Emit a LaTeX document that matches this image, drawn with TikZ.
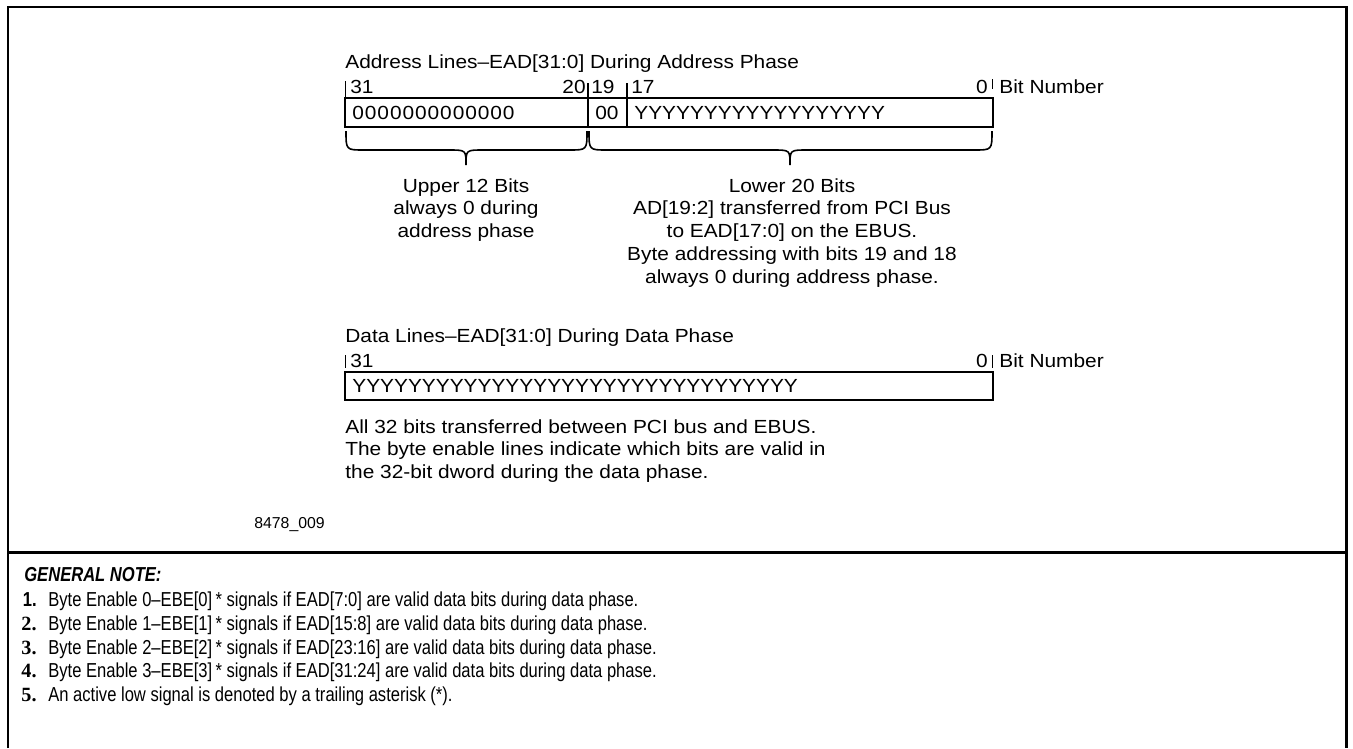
\documentclass[tikz,border=0pt]{standalone}
\usepackage{fontspec}
\setmainfont[FakeStretch=1.1]{Liberation Sans}
\newfontfamily\notefont[FakeStretch=0.82]{Liberation Sans}
\newfontfamily\figfont{Liberation Sans}
\newfontfamily\numfont{Liberation Serif}
\usetikzlibrary{calc}

\begin{document}
\begin{tikzpicture}[x=0.02cm,y=-0.02cm,
  txt/.style={inner sep=0pt,font=\fontsize{10.8}{13}\selectfont},
  note/.style={inner sep=0pt,anchor=base west,font=\notefont\fontsize{11.5}{13}\selectfont},
  num/.style={inner sep=0pt,anchor=base east,font=\numfont\bfseries\fontsize{11.5}{13}\selectfont},
  frame/.style={line width=1.7pt},
  box/.style={line width=0.9pt},
  tick/.style={line width=0.5pt}]

\useasboundingbox (0,0) rectangle (1353,748);

 \draw[frame] (8,748) -- (8,7) -- (1346,7) -- (1346,748);
 \draw[frame] (8,552) -- (1346,552);

% address phase
 \node[txt,anchor=base west] (addrtitle) at (345,68) {Address Lines–EAD[31:0] During Address Phase};
 \node[txt,anchor=base west] (a31) at (350,93) {31};
 \node[txt,anchor=base east] (a20) at (586,93) {20};
 \node[txt,anchor=base west] (a19) at (591,93) {19};
 \node[txt,anchor=base west] (a17) at (631,93) {17};
 \node[txt,anchor=base east] (a0) at (988,93) {0};
 \node[txt,anchor=base west] (abitnum) at (999,93) {Bit Number};

 \draw[box] (345,98) rectangle (993,127);
 \draw[tick] (345,81) -- (345,98);
 \draw[tick] (992,79) -- (992,89);
 \draw[box] (588,83) -- (588,127);
 \draw[box] (627,83) -- (627,127);

 \node[txt,anchor=base west] (azeros) at (352,119) {\addfontfeature{LetterSpace=5}0000000000000};
 \node[txt,anchor=base west] (adbl) at (595,119) {00};
 \node[txt,anchor=base west] (alowy) at (634,119) {YYYYYYYYYYYYYYYYYY};

 \draw[box] (346,131) .. controls (346,150) .. (364,150) -- (449,150) .. controls (466,150) .. (466,165)
   .. controls (466,150) .. (483,150) -- (569,150) .. controls (587,150) .. (587,131);
 \draw[box] (589,131) .. controls (589,150) .. (607,150) -- (773,150) .. controls (790,150) .. (790,165)
   .. controls (790,150) .. (807,150) -- (974,150) .. controls (992,150) .. (992,131);

 \node[txt,anchor=north,align=center] (upper) at (466,178) {Upper 12 Bits\\always 0 during\\address phase};
 \node[txt,anchor=north,align=center] (lower) at (792,178) {Lower 20 Bits\\AD[19:2] transferred from PCI Bus\\to EAD[17:0] on the EBUS.\\Byte addressing with bits 19 and 18\\always 0 during address phase.};

% data phase
 \node[txt,anchor=base west] (datatitle) at (345,342) {Data Lines–EAD[31:0] During Data Phase};
 \node[txt,anchor=base west] (d31) at (350,367) {31};
 \node[txt,anchor=base east] (d0) at (988,367) {0};
 \node[txt,anchor=base west] (dbitnum) at (999,367) {Bit Number};
 \draw[tick] (345,355) -- (345,368);
 \draw[tick] (992,355) -- (992,368);
 \draw[box] (345,372) rectangle (993,400);
 \node[txt,anchor=base west] (dally) at (352,392) {YYYYYYYYYYYYYYYYYYYYYYYYYYYYYYYY};

 \node[txt,anchor=north west,align=left] (ddesc) at (345,419) {All 32 bits transferred between PCI bus and EBUS.\\The byte enable lines indicate which bits are valid in\\the 32-bit dword during the data phase.};

 \node[inner sep=0pt,anchor=base west,font=\figfont\fontsize{9}{11}\selectfont] (figid) at (254,528) {8478\_009};

% notes
 \node[note,font=\notefont\bfseries\itshape\fontsize{11.5}{13}\selectfont] (gnote) at (24,581) {GENERAL NOTE:};
 \node[num,font=\notefont\bfseries\fontsize{11.5}{13}\selectfont] (n1) at (37,606) {1.};
 \node[num] (n2) at (37,630) {2.};
 \node[num] (n3) at (37,654) {3.};
 \node[num] (n4) at (37,677) {4.};
 \node[num] (n5) at (37,701) {5.};
 \node[note] (t1) at (48,606) {Byte Enable 0–EBE[0]\,* signals if EAD[7:0] are valid data bits during data phase.};
 \node[note] (t2) at (48,630) {Byte Enable 1–EBE[1]\,* signals if EAD[15:8] are valid data bits during data phase.};
 \node[note] (t3) at (48,654) {Byte Enable 2–EBE[2]\,* signals if EAD[23:16] are valid data bits during data phase.};
 \node[note] (t4) at (48,677) {Byte Enable 3–EBE[3]\,* signals if EAD[31:24] are valid data bits during data phase.};
 \node[note] (t5) at (48,701) {An active low signal is denoted by a trailing asterisk (*).};
\end{tikzpicture}
\end{document}
